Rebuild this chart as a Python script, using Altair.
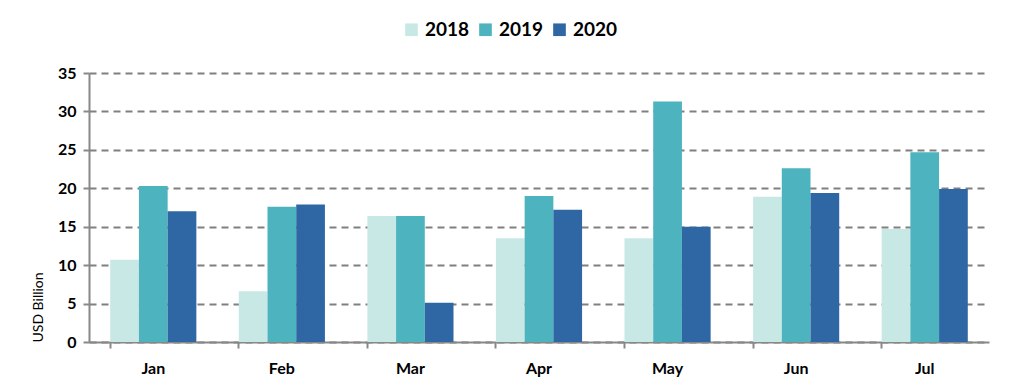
import altair as alt
import pandas as pd

months = ["Jan", "Feb", "Mar", "Apr", "May", "Jun", "Jul"]
years = ["2018", "2019", "2020"]
v2018 = [10.7, 6.6, 16.4, 13.5, 13.5, 18.9, 14.7]
v2019 = [20.3, 17.6, 16.4, 19.0, 31.3, 22.6, 24.7]
v2020 = [17.0, 17.9, 5.1, 17.2, 15.0, 19.4, 19.9]
colors = ["#C8E8E6", "#4DB3BE", "#2F67A5"]

rows = []
for y, vals in zip(years, [v2018, v2019, v2020]):
    for m, v in zip(months, vals):
        rows.append({"Month": m, "Year": y, "Value": v})
df = pd.DataFrame(rows)

FONT = "Lato"

chart = alt.Chart(df).mark_bar().encode(
    x=alt.X("Month:N", sort=months, title=None,
            scale=alt.Scale(paddingInner=0.33, paddingOuter=0.165),
            axis=alt.Axis(labelAngle=0, bandPosition=0, labelFontWeight="bold",
                          labelFontSize=16, labelFont=FONT, labelColor="#000000",
                          labelPadding=12, tickSize=6, tickColor="#888888", tickWidth=2,
                          domainColor="#888888", domainWidth=2, grid=False)),
    xOffset=alt.XOffset("Year:N", sort=years),
    y=alt.Y("Value:Q", title="USD Billion",
            scale=alt.Scale(domain=[0, 35]),
            axis=alt.Axis(values=[0, 5, 10, 15, 20, 25, 30, 35], labelFontWeight="bold",
                          labelFontSize=16, labelFont=FONT, labelColor="#000000",
                          labelPadding=7, tickSize=6, tickColor="#888888", tickWidth=2,
                          domainColor="#888888", domainWidth=2,
                          grid=True, gridColor="#808080", gridWidth=2, gridDash=[7, 5],
                          titleFont=FONT, titleFontSize=14, titleFontWeight="normal",
                          titleColor="#000000", titleAnchor="start", titlePadding=12)),
    color=alt.Color("Year:N", sort=years,
                    scale=alt.Scale(domain=years, range=colors),
                    legend=alt.Legend(title=None, orient="none", direction="horizontal",
                                      legendX=313, legendY=-53,
                                      labelFont=FONT, labelFontSize=19, labelFontWeight="bold",
                                      labelColor="#000000", symbolType="square",
                                      symbolSize=160, symbolStrokeWidth=0,
                                      columnPadding=6)),
).properties(
    width=900, height=269,
    padding={"left": 23, "top": 12, "right": 15, "bottom": 5},
).configure_view(stroke=None)

chart.save("out.html", embed_options={"renderer": "svg", "actions": False})
